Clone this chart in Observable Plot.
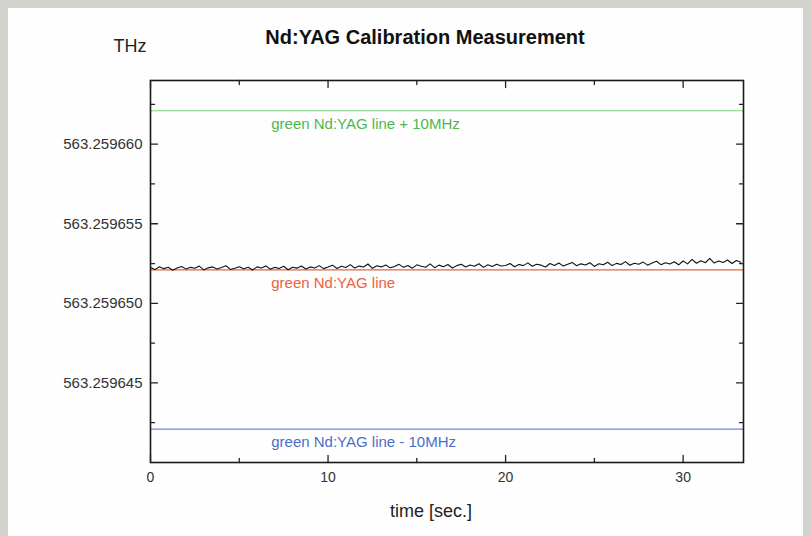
<!DOCTYPE html>
<html>
<head>
<meta charset="utf-8">
<script src="https://cdn.jsdelivr.net/npm/d3@7"></script>
<script src="https://cdn.jsdelivr.net/npm/@observablehq/plot@0.6"></script>
<style>
  html, body { margin: 0; padding: 0; }
  body { width: 811px; height: 536px; background: #d3d3ce; position: relative; overflow: hidden; }
  #panel { position: absolute; left: 8px; top: 8px; width: 795px; height: 528px; background: #fefefe; }
  #chart { position: absolute; left: 0; top: 0; }
</style>
</head>
<body>
<div id="panel"></div>
<div id="chart"></div>
<script>
// Frequencies given in MHz above 563.259 THz
const baseTHz = 563.259;
const title = "Nd:YAG Calibration Measurement";
const yUnit = "THz";
const xLabel = "time [sec.]";

const refNames = ["green Nd:YAG line + 10MHz", "green Nd:YAG line", "green Nd:YAG line - 10MHz"];
const refValues = [662.1, 652.1, 642.1];
const refLineColors = ["#7fd07f", "#f0603c", "#6a88d8"];
const refTextColors = ["#4cb84c", "#f0603c", "#4a6fc8"];
const labelTime = 6.8;

const yMajorTicks = [645, 650, 655, 660];
const yMinorTicks = [642.5, 647.5, 652.5, 657.5, 662.5];
const xMajorTicks = [0, 10, 20, 30];
const xMinorTicks = [5, 15, 25];

const sampleStep = 0.25; // seconds between samples
const traceMHz = [
  652.25,652.12,652.30,652.18,652.27,652.08,652.22,652.31,652.15,652.26,
  652.20,652.34,652.10,652.23,652.29,652.16,652.25,652.36,652.13,652.21,
  652.30,652.17,652.27,652.09,652.29,652.22,652.35,652.14,652.26,652.19,
  652.33,652.11,652.27,652.21,652.35,652.16,652.29,652.22,652.37,652.18,
  652.28,652.40,652.19,652.33,652.25,652.43,652.22,652.34,652.28,652.47,
  652.20,652.36,652.29,652.41,652.23,652.32,652.45,652.26,652.38,652.21,
  652.42,652.33,652.27,652.48,652.24,652.40,652.30,652.44,652.22,652.37,
  652.46,652.28,652.41,652.33,652.49,652.26,652.42,652.31,652.45,652.35,
  652.38,652.50,652.30,652.44,652.37,652.54,652.33,652.46,652.40,652.28,
  652.50,652.38,652.53,652.34,652.46,652.57,652.36,652.48,652.41,652.55,
  652.32,652.49,652.42,652.58,652.37,652.51,652.44,652.62,652.39,652.52,
  652.45,652.59,652.40,652.53,652.64,652.43,652.55,652.47,652.61,652.42,
  652.66,652.48,652.76,652.52,652.67,652.55,652.82,652.53,652.66,652.57,
  652.72,652.50,652.69,652.58
];

const trace = traceMHz.map((v, i) => ({t: i * sampleStep, f: v}));
const refs = refNames.map((name, i) => ({name, value: refValues[i], line: refLineColors[i], text: refTextColors[i]}));

const fmtY = d => (baseTHz + d / 1e6).toFixed(6);
const font = "'Liberation Sans', Arial, Helvetica, sans-serif";

const tickShape = {
  draw(context, l) { context.moveTo(0, 0); context.lineTo(0, -l); }
};

function ticks(values, channel, anchor, rotate, length) {
  const o = {frameAnchor: anchor, rotate, length, anchor: "start", shape: tickShape, stroke: "#222", strokeWidth: 1.3};
  o[channel] = d => d;
  return Plot.vector(values, o);
}

const chart = Plot.plot({
  width: 811,
  height: 536,
  marginLeft: 150,
  marginRight: 68,
  marginTop: 80,
  marginBottom: 74,
  style: {background: "transparent", fontFamily: font},
  x: {domain: [0, 33.4], axis: null},
  y: {domain: [640, 664], axis: null},
  marks: [
    Plot.ruleY(refs, {y: "value", stroke: "line", strokeWidth: 1.2}),
    Plot.text(refs, {x: () => labelTime, y: "value", dy: 13, text: "name", fill: "text", textAnchor: "start", fontSize: 15}),
    Plot.line(trace, {x: "t", y: "f", stroke: "#111", strokeWidth: 1.1}),
    Plot.frame({stroke: "#1a1a1a", strokeWidth: 1.6}),
    ticks(yMajorTicks, "y", "left", 90, 7),
    ticks(yMinorTicks, "y", "left", 90, 4),
    ticks(yMajorTicks, "y", "right", -90, 7),
    ticks(yMinorTicks, "y", "right", -90, 4),
    ticks(xMajorTicks, "x", "bottom", 0, 7),
    ticks(xMinorTicks, "x", "bottom", 0, 4),
    ticks(xMajorTicks, "x", "top", 180, 7),
    ticks(xMinorTicks, "x", "top", 180, 4),
    Plot.text(yMajorTicks, {y: d => d, frameAnchor: "left", dx: -8, textAnchor: "end", text: fmtY, fontSize: 15, fill: "#333"}),
    Plot.text(xMajorTicks, {x: d => d, frameAnchor: "bottom", dy: 19, text: d => String(d), fontSize: 14, fill: "#333"}),
    Plot.text([xLabel], {frameAnchor: "bottom", dx: -16, dy: 54, text: d => d, fontSize: 18, fill: "#222"}),
    Plot.text([title], {frameAnchor: "top", dx: -22, dy: -51, text: d => d, fontSize: 20, fontWeight: "bold", fill: "#111"}),
    Plot.text([yUnit], {frameAnchor: "top-left", dx: -37, dy: -41, text: d => d, textAnchor: "start", fontSize: 18, fill: "#222"})
  ]
});
document.getElementById("chart").appendChild(chart);
</script>
</body>
</html>
